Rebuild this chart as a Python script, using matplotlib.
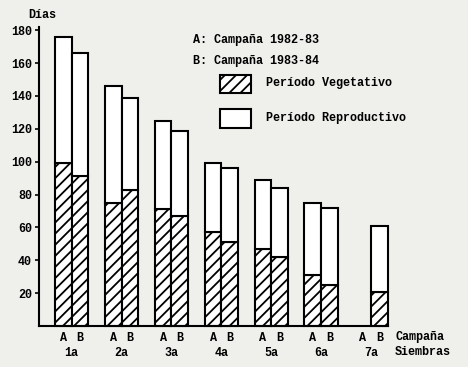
import numpy as np
import matplotlib.pyplot as plt
from matplotlib.patches import Rectangle

# datos (dias)
siembras = ["1a", "2a", "3a", "4a", "5a", "6a", "7a"]
total_a = [176, 146, 125, 99, 89, 75, np.nan]
veget_a = [99, 75, 71, 57, 47, 31, np.nan]
total_b = [166, 139, 119, 96, 84, 72, 61]
veget_b = [91, 83, 67, 51, 42, 25, 21]
ticks_y = [20, 40, 60, 80, 100, 120, 140, 160, 180]

fondo = "#efefec"
fuente = {"family": "Liberation Mono", "weight": "bold"}
plt.rcParams["hatch.linewidth"] = 1.3

fig = plt.figure(figsize=(4.68, 3.67), dpi=100, facecolor=fondo)
ax = fig.add_axes([39 / 468, 41 / 367, 349 / 468, 299 / 367], facecolor=fondo)

x = np.arange(len(siembras))
w = 0.335
repro_a = np.array(total_a) - np.array(veget_a)
repro_b = np.array(total_b) - np.array(veget_b)

estilo = dict(width=w, edgecolor="black", linewidth=1.5, clip_on=False)
ax.bar(x - w / 2, veget_a, color="white", hatch="///", **estilo)
ax.bar(x - w / 2, repro_a, bottom=veget_a, color="white", **estilo)
ax.bar(x + w / 2, veget_b, color="white", hatch="///", **estilo)
ax.bar(x + w / 2, repro_b, bottom=veget_b, color="white", **estilo)

ax.set_xlim(-0.655, 6.34)
ax.set_ylim(0, 182)
for s in ["top", "right"]:
    ax.spines[s].set_visible(False)
ax.spines["left"].set_linewidth(1.5)
ax.spines["bottom"].set_linewidth(1.5)
ax.set_xticks([])
ax.set_yticks(ticks_y)
ax.set_yticklabels([str(t) for t in ticks_y], fontdict=fuente, fontsize=8.5)
ax.tick_params(axis="y", length=3, width=1.2, pad=2)

# etiquetas del eje x
tr = ax.get_xaxis_transform()
for i, s in enumerate(siembras):
    ax.text(x[i] - w / 2, -0.04, "A", transform=tr, ha="center", va="center", fontsize=8.5, **fuente)
    ax.text(x[i] + w / 2, -0.04, "B", transform=tr, ha="center", va="center", fontsize=8.5, **fuente)
    ax.text(x[i], -0.09, s, transform=tr, ha="center", va="center", fontsize=8.5, **fuente)
fig.text(395 / 468, 1 - 337 / 367, "Campaña", ha="left", va="center", fontsize=8.5, **fuente)
fig.text(395 / 468, 1 - 352 / 367, "Siembras", ha="left", va="center", fontsize=8.5, **fuente)
fig.text(28 / 468, 1 - 15 / 367, "Días", ha="left", va="center", fontsize=8.5, **fuente)

# leyenda
fig.text(193 / 468, 1 - 40 / 367, "A: Campaña 1982-83", ha="left", va="center", fontsize=8.5, **fuente)
fig.text(193 / 468, 1 - 61 / 367, "B: Campaña 1983-84", ha="left", va="center", fontsize=8.5, **fuente)
fig.patches.append(Rectangle((220 / 468, 1 - 93 / 367), 31 / 468, 18 / 367, transform=fig.transFigure,
                             facecolor="white", edgecolor="black", hatch="///", linewidth=1.5))
fig.patches.append(Rectangle((220 / 468, 1 - 128 / 367), 31 / 468, 19 / 367, transform=fig.transFigure,
                             facecolor="white", edgecolor="black", linewidth=1.5))
fig.text(266 / 468, 1 - 83 / 367, "Período Vegetativo", ha="left", va="center", fontsize=8.5, **fuente)
fig.text(266 / 468, 1 - 118 / 367, "Período Reproductivo", ha="left", va="center", fontsize=8.5, **fuente)

fig.savefig("out.png", dpi=100, facecolor=fondo)
